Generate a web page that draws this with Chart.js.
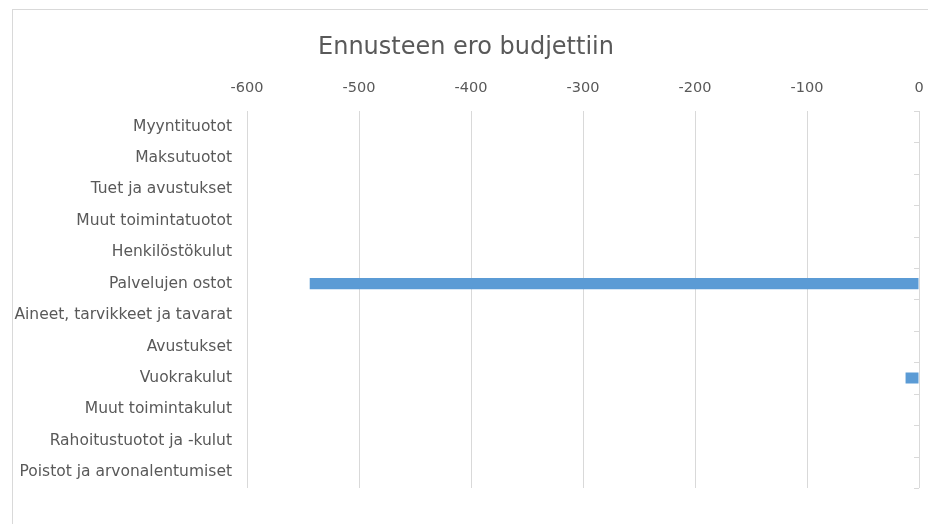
<!DOCTYPE html>
<html>
<head>
<meta charset="utf-8">
<script src="https://cdn.jsdelivr.net/npm/chart.js@4/dist/chart.umd.min.js"></script>
<style>
  html, body { margin: 0; padding: 0; background: #fff; }
  #wrap {
    position: absolute; left: 12px; top: 9px; width: 916px; height: 515px;
    border-left: 1px solid #d9d9d9; border-top: 1px solid #d9d9d9;
    box-sizing: border-box;
  }
</style>
</head>
<body>
<div id="wrap"><canvas id="myChart"></canvas></div>
<script>
const labels = [
  "Myyntituotot",
  "Maksutuotot",
  "Tuet ja avustukset",
  "Muut toimintatuotot",
  "Henkilöstökulut",
  "Palvelujen ostot",
  "Aineet, tarvikkeet ja tavarat",
  "Avustukset",
  "Vuokrakulut",
  "Muut toimintakulut",
  "Rahoitustuotot ja -kulut",
  "Poistot ja arvonalentumiset"
];
const values = [0, 0, 0, 0, 0, -544, 0, 0, -12, 0, 0, 0];
const axisMin = -600;
const axisMax = 0;
const axisStep = 100;

const textColor = "#595959";
const gridColor = "#d9d9d9";
const fontName = "DejaVu Sans";

// little tick marks on the zero line between categories
const zeroTicks = {
  id: "zeroTicks",
  afterDraw(chart) {
    const x = chart.scales.x.getPixelForValue(0);
    const y = chart.scales.y;
    const c = chart.ctx;
    c.save();
    c.strokeStyle = gridColor;
    c.lineWidth = 1;
    c.beginPath();
    for (let i = 0; i <= labels.length; i++) {
      const py = Math.round(y.getPixelForValue(i - 0.5)) + 0.5;
      c.moveTo(x - 5, py);
      c.lineTo(x, py);
    }
    c.stroke();
    c.restore();
  }
};

var ctx = document.getElementById("myChart");
const data = {
  labels: labels,
  datasets: [
    {
      label: "Ennusteen ero budjettiin",
      data: values,
      backgroundColor: "#5b9bd5",
      borderWidth: 0,
      categoryPercentage: 1,
      barPercentage: 0.355
    }
  ]
};
const config = {
  type: "bar",
  data: data,
  options: {
    indexAxis: "y",
    responsive: true,
    maintainAspectRatio: false,
    animation: false,
    layout: { padding: { left: 0, right: 9, top: 0, bottom: 36 } },
    plugins: {
      legend: { display: false },
      tooltip: { enabled: false },
      title: {
        display: true,
        text: "Ennusteen ero budjettiin",
        color: textColor,
        font: { family: fontName, size: 24, weight: "normal" },
        padding: { top: 23, bottom: 9 }
      }
    },
    scales: {
      x: {
        position: "top",
        min: axisMin,
        max: axisMax,
        ticks: {
          stepSize: axisStep,
          color: textColor,
          font: { family: fontName, size: 14.5 },
          padding: 14
        },
        grid: { color: gridColor, drawTicks: false },
        border: { display: false },
        afterFit(scale) {
          scale.height = 40;
          scale.paddingLeft = 0;
          scale.paddingRight = 0;
        }
      },
      y: {
        ticks: {
          color: textColor,
          font: { family: fontName, size: 15.5 },
          padding: 15
        },
        grid: { display: false, drawTicks: false },
        border: { display: false },
        afterFit(scale) { scale.width = 234; }
      }
    }
  },
  plugins: [zeroTicks]
};

var myChart = new Chart(ctx, config);
</script>
</body>
</html>
